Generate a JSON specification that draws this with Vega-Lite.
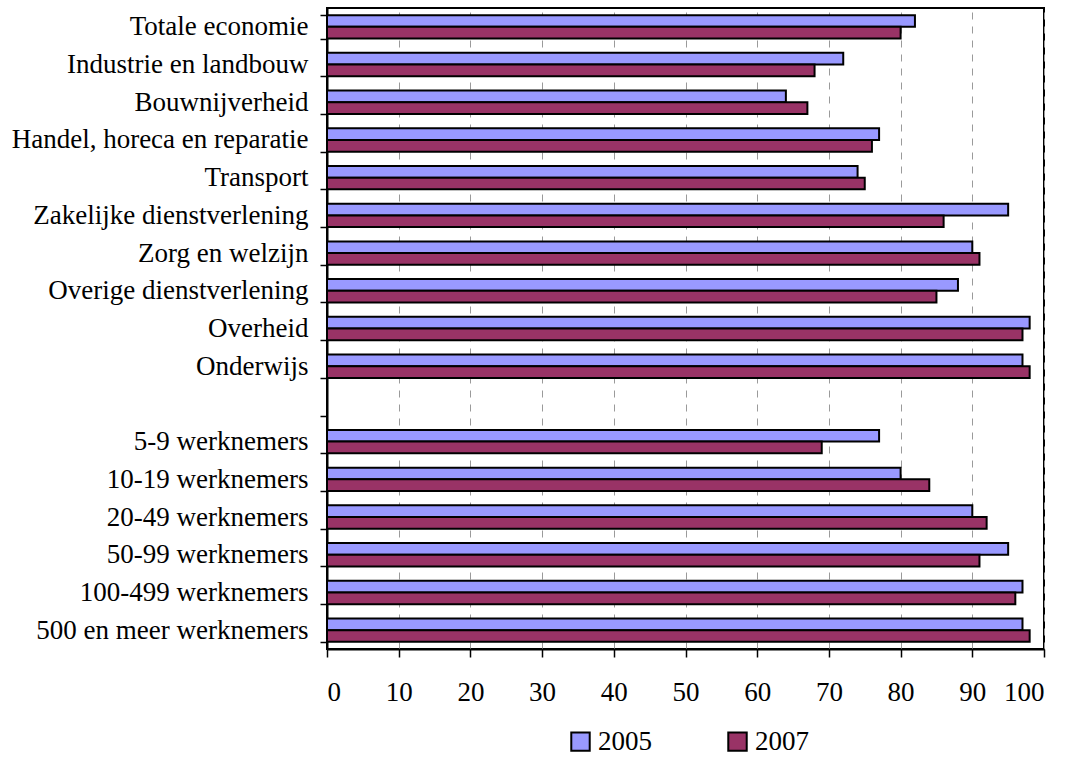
{
  "$schema": "https://vega.github.io/schema/vega-lite/v6.json",
  "width": 717,
  "height": 641,
  "autosize": {"type": "none"},
  "padding": {"left": 327, "top": 8, "right": 24, "bottom": 109},
  "background": "white",
  "config": {
    "font": "Liberation Serif",
    "view": {"stroke": "black", "strokeWidth": 2},
    "axis": {"labelFont": "Liberation Serif"},
    "legend": {"labelFont": "Liberation Serif"}
  },
  "data": {
    "values": [
      {"sector": "Totale economie", "jaar": "2005", "waarde": 82},
      {"sector": "Totale economie", "jaar": "2007", "waarde": 80},
      {"sector": "Industrie en landbouw", "jaar": "2005", "waarde": 72},
      {"sector": "Industrie en landbouw", "jaar": "2007", "waarde": 68},
      {"sector": "Bouwnijverheid", "jaar": "2005", "waarde": 64},
      {"sector": "Bouwnijverheid", "jaar": "2007", "waarde": 67},
      {"sector": "Handel, horeca en reparatie", "jaar": "2005", "waarde": 77},
      {"sector": "Handel, horeca en reparatie", "jaar": "2007", "waarde": 76},
      {"sector": "Transport", "jaar": "2005", "waarde": 74},
      {"sector": "Transport", "jaar": "2007", "waarde": 75},
      {"sector": "Zakelijke dienstverlening", "jaar": "2005", "waarde": 95},
      {"sector": "Zakelijke dienstverlening", "jaar": "2007", "waarde": 86},
      {"sector": "Zorg en welzijn", "jaar": "2005", "waarde": 90},
      {"sector": "Zorg en welzijn", "jaar": "2007", "waarde": 91},
      {"sector": "Overige dienstverlening", "jaar": "2005", "waarde": 88},
      {"sector": "Overige dienstverlening", "jaar": "2007", "waarde": 85},
      {"sector": "Overheid", "jaar": "2005", "waarde": 98},
      {"sector": "Overheid", "jaar": "2007", "waarde": 97},
      {"sector": "Onderwijs", "jaar": "2005", "waarde": 97},
      {"sector": "Onderwijs", "jaar": "2007", "waarde": 98},
      {"sector": "5-9 werknemers", "jaar": "2005", "waarde": 77},
      {"sector": "5-9 werknemers", "jaar": "2007", "waarde": 69},
      {"sector": "10-19 werknemers", "jaar": "2005", "waarde": 80},
      {"sector": "10-19 werknemers", "jaar": "2007", "waarde": 84},
      {"sector": "20-49 werknemers", "jaar": "2005", "waarde": 90},
      {"sector": "20-49 werknemers", "jaar": "2007", "waarde": 92},
      {"sector": "50-99 werknemers", "jaar": "2005", "waarde": 95},
      {"sector": "50-99 werknemers", "jaar": "2007", "waarde": 91},
      {"sector": "100-499 werknemers", "jaar": "2005", "waarde": 97},
      {"sector": "100-499 werknemers", "jaar": "2007", "waarde": 96},
      {"sector": "500 en meer werknemers", "jaar": "2005", "waarde": 97},
      {"sector": "500 en meer werknemers", "jaar": "2007", "waarde": 98}
    ]
  },
  "mark": {"type": "bar", "stroke": "black", "strokeWidth": 2},
  "encoding": {
    "y": {
      "field": "sector",
      "type": "nominal",
      "scale": {
        "domain": [
          "Totale economie",
          "Industrie en landbouw",
          "Bouwnijverheid",
          "Handel, horeca en reparatie",
          "Transport",
          "Zakelijke dienstverlening",
          "Zorg en welzijn",
          "Overige dienstverlening",
          "Overheid",
          "Onderwijs",
          " ",
          "5-9 werknemers",
          "10-19 werknemers",
          "20-49 werknemers",
          "50-99 werknemers",
          "100-499 werknemers",
          "500 en meer werknemers"
        ],
        "paddingInner": 0.38,
        "paddingOuter": 0.19
      },
      "axis": {
        "title": null,
        "tickBand": "extent",
        "grid": false,
        "labelFont": "Liberation Serif",
        "labelFontSize": 27,
        "labelColor": "black",
        "labelPadding": 12,
        "labelLimit": 400,
        "tickColor": "black",
        "tickSize": 7,
        "tickWidth": 1.5,
        "domainColor": "black",
        "domainWidth": 2
      }
    },
    "yOffset": {
      "field": "jaar",
      "type": "nominal",
      "scale": {"paddingInner": 0}
    },
    "x": {
      "field": "waarde",
      "type": "quantitative",
      "scale": {"domain": [0, 100], "nice": false},
      "axis": {
        "title": null,
        "values": [0, 10, 20, 30, 40, 50, 60, 70, 80, 90, 100],
        "grid": true,
        "gridColor": "#9a9a9a",
        "gridDash": [7, 7],
        "gridWidth": 1,
        "labelFont": "Liberation Serif",
        "labelFontSize": 27,
        "labelColor": "black",
        "labelPadding": 22,
        "tickColor": "black",
        "tickSize": 8,
        "tickWidth": 1.5,
        "domainColor": "black",
        "domainWidth": 2
      }
    },
    "color": {
      "field": "jaar",
      "type": "nominal",
      "scale": {"domain": ["2005", "2007"], "range": ["#9999FF", "#993366"]},
      "legend": {
        "title": null,
        "orient": "none",
        "legendX": 240,
        "legendY": 720,
        "direction": "horizontal",
        "symbolType": "square",
        "symbolSize": 340,
        "symbolStrokeColor": "black",
        "symbolStrokeWidth": 2,
        "symbolOpacity": 1,
        "labelFont": "Liberation Serif",
        "labelFontSize": 27,
        "labelColor": "black",
        "labelOffset": 4,
        "columnPadding": 72
      }
    }
  }
}
